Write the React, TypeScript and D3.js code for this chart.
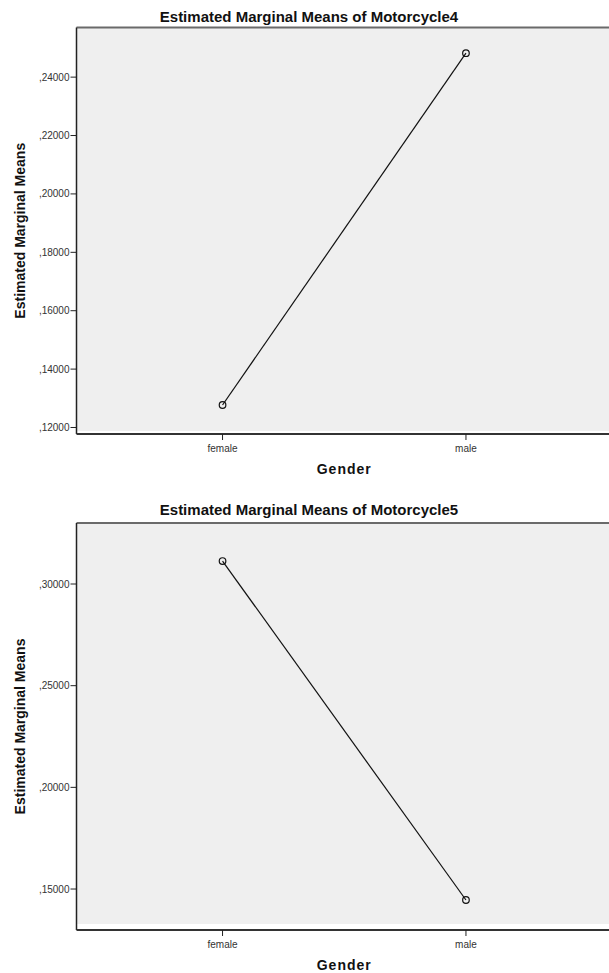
import * as d3 from 'd3';
import React, { useEffect, useRef } from 'react';

const genders = ['female', 'male'];

const motorcycle4Means = [0.1277, 0.2482];
const motorcycle4Ticks = [0.12, 0.14, 0.16, 0.18, 0.2, 0.22, 0.24];

const motorcycle5Means = [0.3113, 0.1446];
const motorcycle5Ticks = [0.15, 0.2, 0.25, 0.3];

interface PanelSpec {
  title: string;
  means: number[];
  ticks: number[];
  yDomain: [number, number];
  titleY: number;
  plotTop: number;
  plotBottom: number;
  axisY: number;
}

const panels: PanelSpec[] = [
  {
    title: 'Estimated Marginal Means of Motorcycle4',
    means: motorcycle4Means,
    ticks: motorcycle4Ticks,
    yDomain: [0.1188, 0.257],
    titleY: 17,
    plotTop: 27.5,
    plotBottom: 431,
    axisY: 434,
  },
  {
    title: 'Estimated Marginal Means of Motorcycle5',
    means: motorcycle5Means,
    ticks: motorcycle5Ticks,
    yDomain: [0.1328, 0.33],
    titleY: 510,
    plotTop: 523,
    plotBottom: 924,
    axisY: 930,
  },
];

const W = 609;
const H = 973;
const plotLeft = 76.5;
const plotRight = 612;
const font = '"Liberation Sans", Arial, sans-serif';

// SPSS style: ",24000"
const fmt = (d: number) => ',' + d.toFixed(5).split('.')[1];

const App: React.FC = () => {
  const ref = useRef<SVGSVGElement | null>(null);

  useEffect(() => {
    document.body.style.margin = '0';
    if (!ref.current) return;
    const svg = d3.select(ref.current);
    svg.selectAll('*').remove();

    svg.append('rect').attr('width', W).attr('height', H).attr('fill', '#ffffff');

    const x = d3
      .scalePoint<string>()
      .domain(genders)
      .range([plotLeft, plotRight])
      .padding(0.6)
      .align(0.5);

    panels.forEach((p) => {
      const g = svg.append('g');
      const y = d3.scaleLinear().domain(p.yDomain).range([p.plotBottom, p.plotTop]);

      // plot background
      g.append('rect')
        .attr('x', plotLeft)
        .attr('y', p.plotTop)
        .attr('width', plotRight - plotLeft)
        .attr('height', p.plotBottom - p.plotTop)
        .attr('fill', '#efefef');

      // frame: top + left + bottom axis
      g.append('line')
        .attr('x1', plotLeft)
        .attr('x2', plotRight)
        .attr('y1', p.plotTop)
        .attr('y2', p.plotTop)
        .attr('stroke', '#6a6a6a')
        .attr('stroke-width', 2);
      g.append('line')
        .attr('x1', plotLeft)
        .attr('x2', plotLeft)
        .attr('y1', p.plotTop)
        .attr('y2', p.axisY)
        .attr('stroke', '#222')
        .attr('stroke-width', 1.5);
      g.append('line')
        .attr('x1', plotLeft)
        .attr('x2', plotRight)
        .attr('y1', p.axisY)
        .attr('y2', p.axisY)
        .attr('stroke', '#333')
        .attr('stroke-width', 2);

      // y ticks
      const yt = g.selectAll('.yt').data(p.ticks).enter().append('g');
      yt.append('line')
        .attr('x1', plotLeft - 6)
        .attr('x2', plotLeft)
        .attr('y1', (d) => y(d))
        .attr('y2', (d) => y(d))
        .attr('stroke', '#222')
        .attr('stroke-width', 1);
      yt.append('text')
        .attr('x', plotLeft - 7)
        .attr('y', (d) => y(d))
        .attr('dy', '0.35em')
        .attr('text-anchor', 'end')
        .attr('font-family', font)
        .attr('font-size', 10)
        .attr('fill', '#333')
        .text((d) => fmt(d));

      // x ticks
      const xt = g.selectAll('.xt').data(genders).enter().append('g');
      xt.append('line')
        .attr('x1', (d) => x(d) as number)
        .attr('x2', (d) => x(d) as number)
        .attr('y1', p.axisY)
        .attr('y2', p.axisY + 6)
        .attr('stroke', '#222')
        .attr('stroke-width', 1);
      xt.append('text')
        .attr('x', (d) => x(d) as number)
        .attr('y', p.axisY + 14)
        .attr('dy', '0.35em')
        .attr('text-anchor', 'middle')
        .attr('font-family', font)
        .attr('font-size', 10)
        .attr('fill', '#333')
        .text((d) => d);

      // line + markers
      const pts = genders.map((c, i) => ({ c, v: p.means[i] }));
      const line = d3
        .line<{ c: string; v: number }>()
        .x((d) => x(d.c) as number)
        .y((d) => y(d.v));
      g.append('path')
        .datum(pts)
        .attr('fill', 'none')
        .attr('stroke', '#111')
        .attr('stroke-width', 1.2)
        .attr('d', line);
      g.selectAll('circle')
        .data(pts)
        .enter()
        .append('circle')
        .attr('cx', (d) => x(d.c) as number)
        .attr('cy', (d) => y(d.v))
        .attr('r', 3.3)
        .attr('fill', 'none')
        .attr('stroke', '#111')
        .attr('stroke-width', 1.2);

      // titles
      g.append('text')
        .attr('x', 309)
        .attr('y', p.titleY)
        .attr('dy', '0.35em')
        .attr('text-anchor', 'middle')
        .attr('font-family', font)
        .attr('font-size', 15)
        .attr('font-weight', 'bold')
        .attr('fill', '#111')
        .text(p.title);

      const midX = ((x('female') as number) + (x('male') as number)) / 2;
      g.append('text')
        .attr('x', midX)
        .attr('y', p.axisY + 35)
        .attr('dy', '0.35em')
        .attr('text-anchor', 'middle')
        .attr('font-family', font)
        .attr('font-size', 14)
        .attr('letter-spacing', 1)
        .attr('font-weight', 'bold')
        .attr('fill', '#111')
        .text('Gender');

      const midY = (p.plotTop + p.axisY) / 2;
      g.append('text')
        .attr('transform', `translate(20, ${midY}) rotate(-90)`)
        .attr('dy', '0.35em')
        .attr('text-anchor', 'middle')
        .attr('font-family', font)
        .attr('font-size', 14)
        .attr('font-weight', 'bold')
        .attr('fill', '#111')
        .text('Estimated Marginal Means');
    });
  }, []);

  return <svg ref={ref} width={W} height={H} style={{ display: 'block' }} />;
};

export default App;
